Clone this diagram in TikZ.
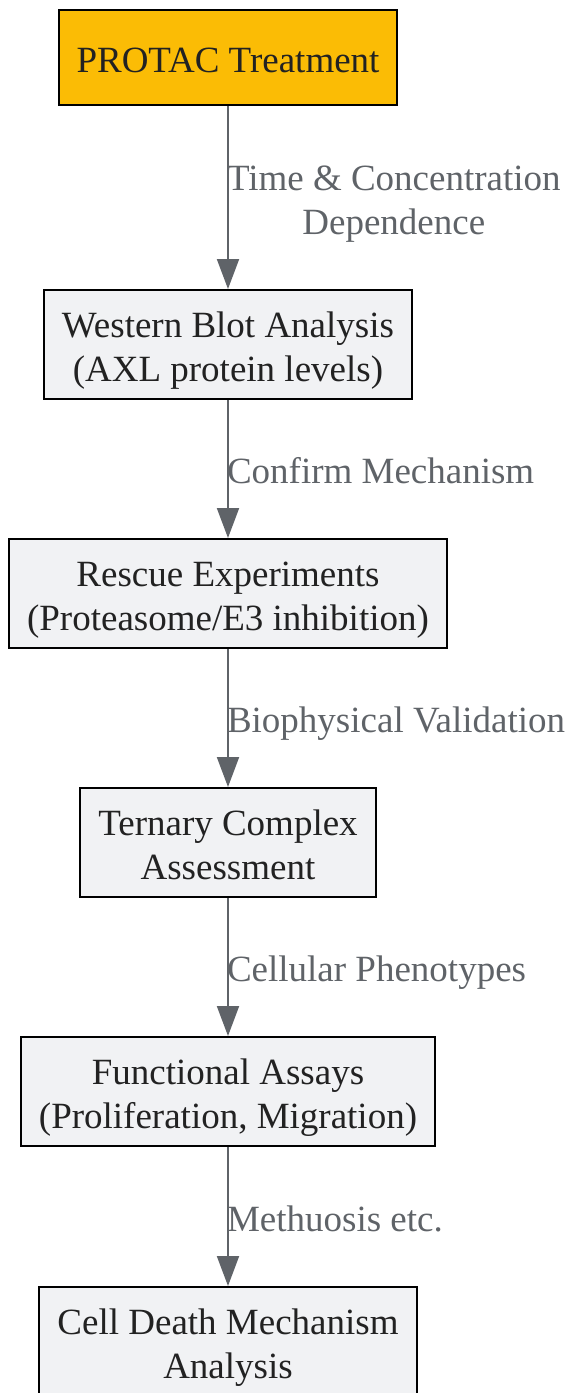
\documentclass[tikz,border=0pt]{standalone}
\usepackage{fontspec}
\setmainfont{Liberation Serif}
\usetikzlibrary{arrows.meta}
\definecolor{protacyellow}{HTML}{FBBC05}
\definecolor{boxgray}{HTML}{F1F2F4}
\definecolor{textdark}{HTML}{222222}
\definecolor{edgegray}{HTML}{5F6368}
\begin{document}
\begin{tikzpicture}[x=0.5pt,y=-0.5pt,
		oneline/.style={text height=18.5pt,text depth=4pt},
		twolines/.style={text height=40.5pt,text depth=4pt},
		stepbox/.style={draw=black,line width=1pt,fill=boxgray,text=textdark,align=center,inner xsep=9pt,inner ysep=0pt,minimum height=54.5pt,twolines,font=\fontsize{18.5}{22}\selectfont},
		startbox/.style={stepbox,oneline,fill=protacyellow,minimum height=47.5pt},
		flowlabel/.style={anchor=west,inner sep=0pt,xshift=-1pt,text=edgegray,align=center,oneline,font=\fontsize{18.5}{22}\selectfont}]
		\useasboundingbox (0,0) rectangle (566,1393);
		\node[startbox] (protac) at (228,57.5) {PROTAC Treatment};
		\node[stepbox] (western) at (228,344.5) {Western Blot Analysis\\(AXL protein levels)};
		\node[stepbox] (rescue) at (228,593.5) {Rescue Experiments\\(Proteasome/E3 inhibition)};
		\node[stepbox] (ternary) at (228,842.5) {Ternary Complex\\Assessment};
		\node[stepbox] (functional) at (228,1091.5) {Functional Assays\\(Proliferation, Migration)};
		\node[stepbox] (death) at (228,1341.5) {Cell Death Mechanism\\Analysis};

		\begin{scope}[draw=edgegray,line width=1pt,>={Triangle[length=15pt,width=11pt,edgegray]}]
			\path[->] (protac) edge node[flowlabel,twolines] {Time \& Concentration\\Dependence} (western);
			\path[->] (western) edge node[flowlabel] {Confirm Mechanism} (rescue);
			\path[->] (rescue) edge node[flowlabel] {Biophysical Validation} (ternary);
			\path[->] (ternary) edge node[flowlabel] {Cellular Phenotypes} (functional);
			\path[->] (functional) edge node[flowlabel] {Methuosis etc.} (death);
		\end{scope}
	\end{tikzpicture}
\end{document}
